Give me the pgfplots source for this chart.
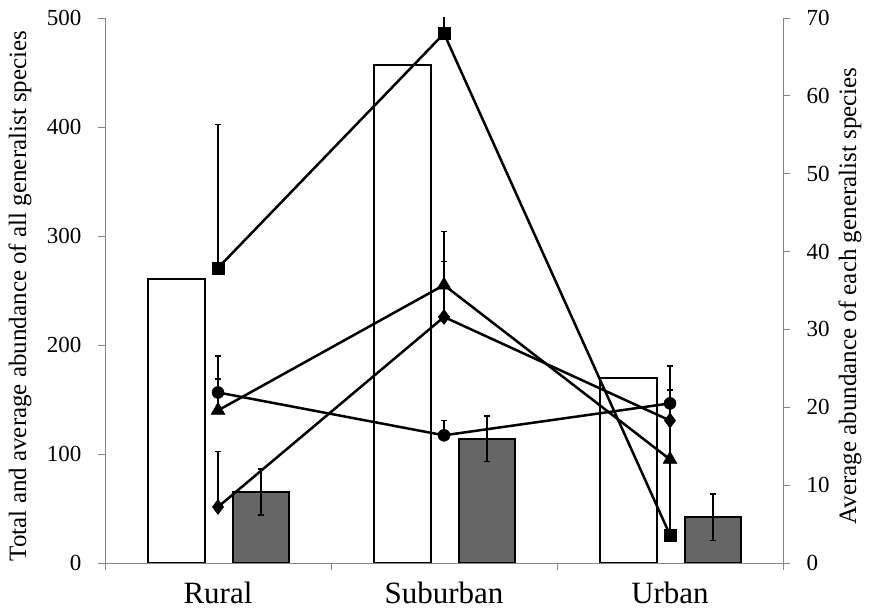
\documentclass[border=0pt]{standalone}
\usepackage{fontspec}
\setmainfont{Liberation Serif}
\usepackage{pgfplots}
\usepackage{pgfplotstable}
\pgfplotsset{compat=1.18}

\definecolor{axisgray}{RGB}{134,134,134}
\definecolor{barfill}{RGB}{102,102,102}

% total (white) and average (grey) abundance, left axis
\pgfplotstableread{
x total avg avgerr
0 261 65 21
1 457 114 21
2 170 42 21.5
}\bars

% each generalist species, right axis
\pgfplotstableread{
x y ey
0 37.9 18.4
1 68.0 5
2 3.6 10
}\sqdata
\pgfplotstableread{
x y ey
0 21.9 4.7
1 16.4 1.9
2 20.5 4.8
}\circdata
\pgfplotstableread{
x y ey
0 19.6 4.0
1 35.7 6.9
2 13.3 8.9
}\tridata
\pgfplotstableread{
x y ey
0 7.2 7.1
1 31.6 7.1
2 18.3 3.9
}\diadata

\pgfplotsset{
  base/.style={
    width=678pt, height=545pt, scale only axis,
    xmin=-0.5, xmax=2.5,
    /pgf/number format/assume math mode=true,
    every tick label/.append style={font=\fontsize{23}{25}\selectfont},
    label style={font=\fontsize{25}{27}\selectfont},
    axis line style={axisgray, line width=0.9pt},
    tick style={axisgray, line width=0.9pt},
    major tick length=7pt, tick align=outside,
  },
  lineplot/.style={
    black, line width=2.5pt, mark size=6pt,
    mark options={solid, fill=black, line width=0.5pt},
    error bars/y dir=plus, error bars/y explicit,
    error bars/error bar style={line width=1.6pt, solid},
    error bars/error mark options={rotate=90, line width=1.6pt, mark size=3pt},
  },
}

\begin{document}
\begin{tikzpicture}
\begin{axis}[base,
    axis y line*=left, axis x line*=bottom,
    ymin=0, ymax=500, ytick={0,100,...,500},
    yticklabel style={xshift=-13pt},
    xtick={-0.5,0.5,1.5,2.5}, xticklabels={},
    extra x ticks={0,1,2},
    extra x tick labels={Rural,Suburban,Urban},
    extra x tick style={major tick length=0pt,
      tick label style={font=\fontsize{31}{33}\selectfont, yshift=-15pt}},
    ylabel={Total and average abundance of all generalist species},
    ylabel style={at={(axis description cs:-0.1254,0.49)}, anchor=center},
  ]
  \addplot[ybar, bar width=0.25, bar shift=0pt, fill=white, draw=black, line width=2pt]
    table[x expr=\thisrow{x}-0.184, y=total]{\bars};
  \addplot[ybar, bar width=0.25, bar shift=0pt, fill=barfill, draw=black, line width=2pt,
    error bars/.cd, y dir=both, y explicit,
    error bar style={line width=1.6pt},
    error mark options={rotate=90, line width=1.6pt, mark size=3pt}]
    table[x expr=\thisrow{x}+0.19, y=avg, y error=avgerr]{\bars};
\end{axis}
\begin{axis}[base,
    axis y line*=right, axis x line=none,
    ymin=0, ymax=70, ytick={0,10,...,70},
    yticklabel style={xshift=13pt},
    ylabel={Average abundance of each generalist species},
    ylabel style={at={(axis description cs:1.0988,0.49)}, anchor=center},
  ]
  \addplot[lineplot, mark=square*] table[x=x, y=y, y error=ey]{\sqdata};
  \addplot[lineplot, mark=*] table[x=x, y=y, y error=ey]{\circdata};
  \addplot[lineplot, mark=triangle*, mark size=8pt] table[x=x, y=y, y error=ey]{\tridata};
  \addplot[lineplot, mark=diamond*, mark size=7.5pt] table[x=x, y=y, y error=ey]{\diadata};
\end{axis}
\path (current axis.south west) ++(-105pt,-51pt);
\path (current axis.north east) ++(86pt,18pt);
\end{tikzpicture}
\end{document}
